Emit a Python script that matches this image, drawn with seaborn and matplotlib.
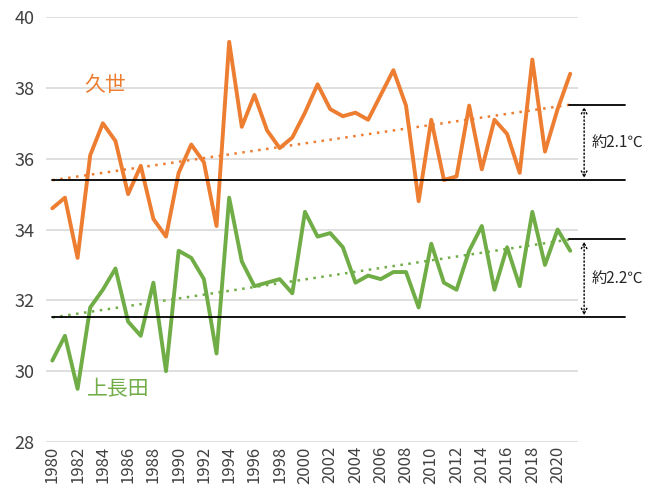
import numpy as np
import pandas as pd
import matplotlib.pyplot as plt
import seaborn as sns

years = list(range(1980, 2022))
kuse = [34.6, 34.9, 33.2, 36.1, 37.0, 36.5, 35.0, 35.8, 34.3, 33.8,
        35.6, 36.4, 35.9, 34.1, 39.3, 36.9, 37.8, 36.8, 36.3, 36.6,
        37.3, 38.1, 37.4, 37.2, 37.3, 37.1, 37.8, 38.5, 37.5, 34.8,
        37.1, 35.4, 35.5, 37.5, 35.7, 37.1, 36.7, 35.6, 38.8, 36.2,
        37.4, 38.4]
kaminagata = [30.3, 31.0, 29.5, 31.8, 32.3, 32.9, 31.4, 31.0, 32.5, 30.0,
              33.4, 33.2, 32.6, 30.5, 34.9, 33.1, 32.4, 32.5, 32.6, 32.2,
              34.5, 33.8, 33.9, 33.5, 32.5, 32.7, 32.6, 32.8, 32.8, 31.8,
              33.6, 32.5, 32.3, 33.4, 34.1, 32.3, 33.5, 32.4, 34.5, 33.0,
              34.0, 33.4]
tick_years = list(range(1980, 2021, 2))

ORANGE = '#ED7D31'
GREEN = '#70AD47'

sns.set_style('white')
plt.rcParams['font.family'] = ['Liberation Sans Narrow', 'Noto Sans CJK JP', 'DejaVu Sans']

df = pd.DataFrame({'year': years, 'kuse': kuse, 'kami': kaminagata})

fig = plt.figure(figsize=(6.59, 4.93), dpi=100)
ax = fig.add_axes([0.0698, 0.1034, 0.807, 0.862])

for col, color in [('kuse', ORANGE), ('kami', GREEN)]:
    sns.lineplot(data=df, x='year', y=col, color=color, lw=2.8, ax=ax, zorder=3)
    k, b = np.polyfit(df['year'], df[col], 1)
    trend = pd.DataFrame({'year': [1980, 2021], 'v': [k * 1980 + b, k * 2021 + b]})
    sns.lineplot(data=trend, x='year', y='v', color=color, lw=1.8, ls=(0, (1, 2.2)), ax=ax, zorder=2)
    y0, y1 = trend['v']
    # start / end levels
    ax.plot([1980, 2025.3], [y0, y0], color='black', lw=1.3, clip_on=False, zorder=4)
    ax.plot([2020.9, 2025.3], [y1, y1], color='black', lw=1.3, clip_on=False, zorder=4)
    ax.annotate('', xy=(2022.1, y1 - 0.06), xytext=(2022.1, y0 + 0.06),
                arrowprops=dict(arrowstyle='<->', color='black', lw=1.0, ls=':',
                                shrinkA=0, shrinkB=0), annotation_clip=False)
    ax.text(2022.7, (y0 + y1) / 2, '約%.1f℃' % (y1 - y0), fontsize=11,
            va='center', ha='left', family=['Noto Sans CJK JP', 'DejaVu Sans'])

ax.text(1984.2, 38.08, '久世', color=ORANGE, fontsize=15, ha='center', va='center',
        family=['Noto Sans CJK JP'])
ax.text(1985.2, 29.5, '上長田', color=GREEN, fontsize=15, ha='center', va='center',
        family=['Noto Sans CJK JP'])

ax.set_xlim(1979.5, 2021.6)
ax.set_ylim(28, 40)
ax.set_yticks(range(28, 41, 2))
ax.set_xticks(tick_years)
ax.set_xticklabels([str(y) for y in tick_years], rotation=90, fontsize=12, color='#404040')
ax.tick_params(axis='y', labelsize=13, labelcolor='#404040', length=0, pad=8)
ax.tick_params(axis='x', length=0, pad=3)
ax.yaxis.grid(True, color='#d9d9d9', lw=1.2)
ax.set_axisbelow(True)
for s in ax.spines.values():
    s.set_visible(False)
ax.set_xlabel('')
ax.set_ylabel('')

fig.savefig('out.png', dpi=100)
